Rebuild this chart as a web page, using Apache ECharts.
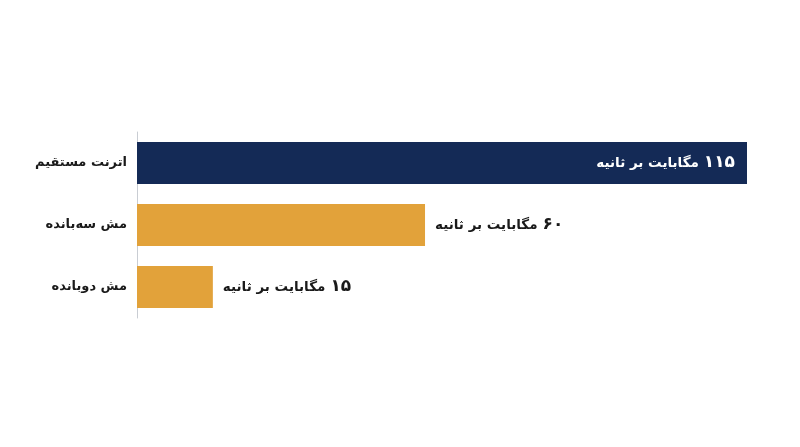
<!DOCTYPE html>
<html>
<head>
<meta charset="utf-8">
<script src="https://cdn.jsdelivr.net/npm/echarts@6/dist/echarts.min.js"></script>
<style>
html,body{margin:0;padding:0;background:#fff;}
#chart{width:800px;height:447px;}
</style>
</head>
<body>
<div id="chart"></div>
<script>
// Categories, top to bottom
const categories = ['اترنت مستقیم', 'مش سه‌بانده', 'مش دوبانده'];
// Bar lengths as drawn in the picture
const barValues = [115, 54.3, 14.3];
// Printed speed labels (Mbps)
const speedLabels = ['۱۱۵', '۶۰', '۱۵'];
const unitText = 'مگابایت بر ثانیه';
const barColors = ['#142a56', '#e2a23a', '#e2a23a'];

const font = '"DejaVu Sans", "Noto Sans", sans-serif';

function labelRich(color) {
  return {
    u: { fontFamily: font, fontWeight: 'bold', fontSize: 13.5, color: color },
    s: { fontFamily: font, fontWeight: 'bold', fontSize: 13.5, color: color, width: 5 },
    n: { fontFamily: font, fontWeight: 'bold', fontSize: 17, color: color }
  };
}

const chart = echarts.init(document.getElementById('chart'));
chart.setOption({
  animation: false,
  grid: { left: 137, right: 53, top: 132, bottom: 129 },
  xAxis: {
    type: 'value', min: 0, max: 115,
    show: false
  },
  yAxis: {
    type: 'category',
    inverse: true,
    data: categories,
    axisLine: { show: true, lineStyle: { color: '#c9cdd3', width: 1 } },
    axisTick: { show: false },
    axisLabel: {
      margin: 10,
      fontFamily: font,
      fontWeight: 'bold',
      fontSize: 13,
      color: '#1a1a1a'
    }
  },
  series: [{
    type: 'bar',
    barWidth: 42,
    data: barValues.map((v, i) => {
      const color = i === 0 ? '#ffffff' : '#1a1a1a';
      return {
        value: v,
        itemStyle: { color: barColors[i] },
        label: {
          show: true,
          position: i === 0 ? 'insideRight' : 'right',
          distance: i === 0 ? 12 : 10,
          formatter: '{u|' + unitText + '}{s| }{n|' + speedLabels[i] + '}',
          rich: labelRich(color)
        }
      };
    })
  }]
});
</script>
</body>
</html>
